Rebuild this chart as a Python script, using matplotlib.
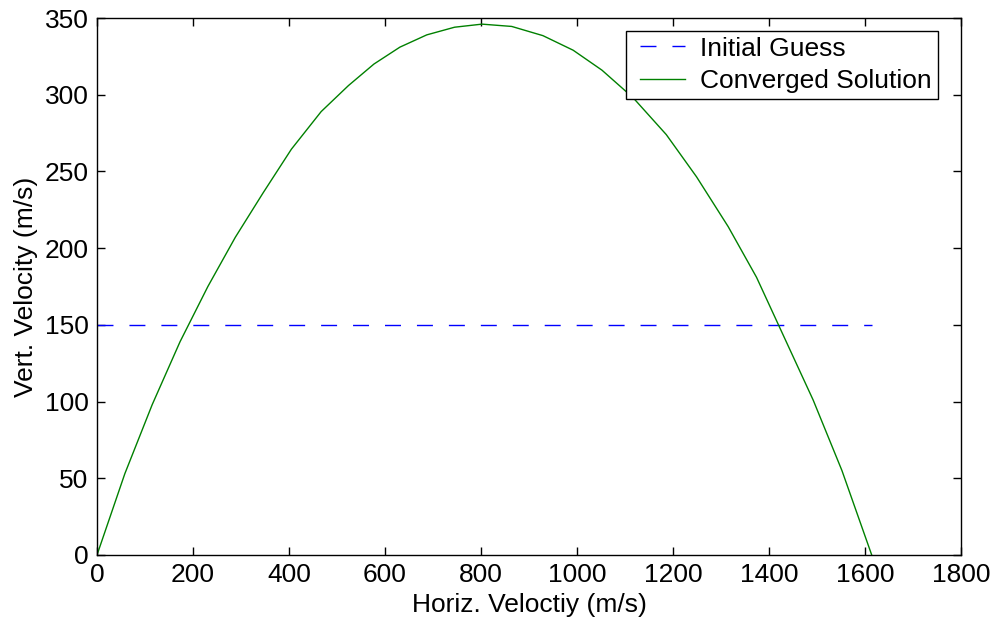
import matplotlib
matplotlib.use('Agg')
import matplotlib.pyplot as plt
from matplotlib.legend_handler import HandlerLine2D

# Converged solution
horiz_vel = [0, 58, 115, 173, 231, 288, 346, 405, 467, 524, 577, 631, 687, 745,
             802, 864, 929, 992, 1052, 1117, 1186, 1249, 1315, 1374, 1433, 1492,
             1552, 1614]
vert_vel = [0, 53, 98, 139, 175, 207, 236, 264.5, 289, 306, 320, 331, 339, 344,
            346, 344.5, 338.5, 329, 316, 298, 274, 246.5, 214, 181, 141, 101,
            55, 0]

# Initial guess: constant vertical velocity
guess_x = [0, 1614]
guess_y = [150, 150]

x_ticks = [0, 200, 400, 600, 800, 1000, 1200, 1400, 1600, 1800]
y_ticks = [0, 50, 100, 150, 200, 250, 300, 350]

plt.rcParams['font.family'] = ['Liberation Sans', 'DejaVu Sans']
fs = 19

fig = plt.figure(figsize=(9.96, 6.29), dpi=100)
ax = fig.add_axes([97/996, 1 - 555/629, 864/996, 537/629])

ax.plot(guess_x, guess_y, color=(0, 0, 1), lw=1.0, dashes=(11.5, 11.5),
        label='Initial Guess')
ax.plot(horiz_vel, vert_vel, color=(0, 0.5, 0), lw=1.0,
        label='Converged Solution')

ax.set_xlim(0, 1800)
ax.set_ylim(0, 350)
ax.set_xticks(x_ticks)
ax.set_yticks(y_ticks)
ax.tick_params(direction='in', length=5.8, width=1.0, top=True, right=True,
               labelsize=fs, pad=6)
for s in ax.spines.values():
    s.set_linewidth(1.0)

ax.set_xlabel('Horiz. Veloctiy (m/s)', fontsize=fs, labelpad=4)
ax.set_ylabel('Vert. Velocity (m/s)', fontsize=fs, labelpad=5)

leg = ax.legend(loc='upper left', bbox_to_anchor=((625.7 - 97) / 864, (555 - 30.7) / 537),
                borderaxespad=0, fontsize=fs, fancybox=False, shadow=False,
                borderpad=0.22, labelspacing=0.32, handlelength=2.03,
                handletextpad=0.57,
                handler_map={plt.Line2D: HandlerLine2D(xpad=0.32)})
leg.get_frame().set_edgecolor('black')
leg.get_frame().set_linewidth(1.0)
leg.get_frame().set_alpha(1)

fig.savefig('out.png', dpi=100)
